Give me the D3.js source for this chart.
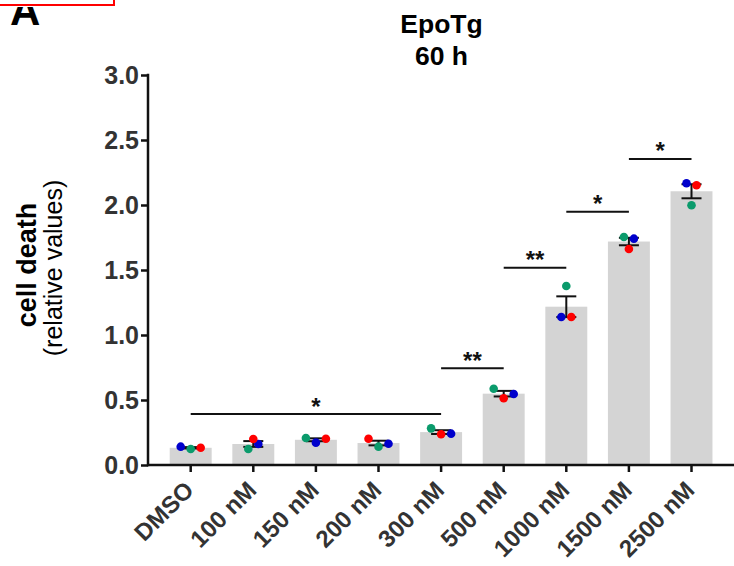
<!DOCTYPE html>
<html>
<head>
<meta charset="utf-8">
<script src="https://cdn.jsdelivr.net/npm/d3@7"></script>
<style>
  html, body { margin: 0; padding: 0; background: #fff; }
  svg { display: block; font-family: "Liberation Sans", Arial, Helvetica, sans-serif; }
</style>
</head>
<body>
<svg id="chart" width="734" height="566"></svg>
<script>
// Concentrations tested
const categories = ["DMSO", "100 nM", "150 nM", "200 nM", "300 nM", "500 nM", "1000 nM", "1500 nM", "2500 nM"];

// Relative cell death, one array per independent experiment
const repBlue  = [0.141, 0.162, 0.172, 0.164, 0.241, 0.546, 1.138, 1.741, 2.167];
const repGreen = [0.123, 0.123, 0.208, 0.141, 0.282, 0.587, 1.377, 1.754, 1.998];
const repRed   = [0.133, 0.200, 0.202, 0.202, 0.236, 0.513, 1.138, 1.662, 2.152];

// Horizontal dodge lanes for the replicate dots (so overlapping dots sit side by side)
const laneBlue  = [-2, 1, 0, 2, 2, 2, -1, 1, -1];
const laneGreen = [0, -1, -2, 0, -2, -2, 0, -1, 0];
const laneRed   = [2, 0, 2, -2, 0, 0, 1, 0, 1];

// Pairwise comparisons
const sigFrom  = ["DMSO", "300 nM", "500 nM", "1000 nM", "1500 nM"];
const sigTo    = ["300 nM", "500 nM", "1000 nM", "1500 nM", "2500 nM"];
const sigLevel = [0.392, 0.744, 1.518, 1.949, 2.354];
const sigText  = ["*", "**", "**", "*", "*"];

const yTicks = [0, 0.5, 1.0, 1.5, 2.0, 2.5, 3.0];

const svg = d3.select("#chart");

const x = d3.scaleBand().domain(categories).range([159.4, 722.8]).padding(0);
const y = d3.scaleLinear().domain([0, 3]).range([465, 75]);
const barW = x.bandwidth() * 0.67;
const cx = c => x(c) + x.bandwidth() / 2;

const reps = [
  { vals: repBlue,  lanes: laneBlue,  color: "#0000cc" },
  { vals: repGreen, lanes: laneGreen, color: "#0b9b6c" },
  { vals: repRed,   lanes: laneRed,   color: "#ff0000" }
];

const rows = categories.map((c, i) => {
  const v = reps.map(r => r.vals[i]);
  const mean = d3.mean(v);
  const sem = d3.deviation(v) / Math.sqrt(v.length);
  return { cat: c, mean, sem };
});

// Panel letter, cropped at the top by the frame
svg.append("defs").append("clipPath").attr("id", "letterClip")
  .append("rect").attr("x", 0).attr("y", 7).attr("width", 100).attr("height", 40);
svg.append("text")
  .attr("x", 10).attr("y", 25)
  .attr("clip-path", "url(#letterClip)")
  .style("font-size", "42px").style("font-weight", "bold").attr("fill", "#000")
  .text("A");
svg.append("rect")
  .attr("x", -5).attr("y", -30).attr("width", 119).attr("height", 35)
  .attr("fill", "none").attr("stroke", "#ff0000").attr("stroke-width", 2);

// Title
svg.append("text").attr("x", 441.5).attr("y", 33).attr("text-anchor", "middle")
  .style("font-size", "26.5px").style("font-weight", "bold").text("EpoTg");
svg.append("text").attr("x", 441.5).attr("y", 65).attr("text-anchor", "middle")
  .style("font-size", "26.5px").style("font-weight", "bold").text("60 h");

// Y axis title
svg.append("text")
  .attr("transform", "translate(35.5,265) rotate(-90)")
  .attr("text-anchor", "middle")
  .style("font-size", "27px").style("font-weight", "bold")
  .text("cell death");
svg.append("text")
  .attr("transform", "translate(61.5,268) rotate(-90)")
  .attr("text-anchor", "middle")
  .style("font-size", "25px")
  .text("(relative values)");

// Bars
svg.append("g").selectAll("rect").data(rows).join("rect")
  .attr("x", d => cx(d.cat) - barW / 2)
  .attr("y", d => y(d.mean))
  .attr("width", barW)
  .attr("height", d => y(0) - y(d.mean))
  .attr("fill", "#d4d4d4");

// Error bars (mean ± SEM)
const eb = svg.append("g").attr("stroke", "#111").attr("stroke-width", 2);
rows.forEach(d => {
  const xc = cx(d.cat);
  eb.append("line").attr("x1", xc).attr("x2", xc).attr("y1", y(d.mean - d.sem)).attr("y2", y(d.mean + d.sem));
  [d.mean - d.sem, d.mean + d.sem].forEach(v => {
    eb.append("line").attr("x1", xc - 10).attr("x2", xc + 10).attr("y1", y(v)).attr("y2", y(v));
  });
});

// Replicate dots
const laneStep = 5;
reps.forEach(r => {
  svg.append("g").selectAll("circle").data(categories).join("circle")
    .attr("cx", (c, i) => cx(c) + r.lanes[i] * laneStep)
    .attr("cy", (c, i) => y(r.vals[i]))
    .attr("r", 4.3)
    .attr("fill", r.color);
});

// Axes
const yAxis = svg.append("g").attr("transform", "translate(148,0)")
  .call(d3.axisLeft(y).tickValues(yTicks).tickFormat(d3.format(".1f")).tickSize(7).tickPadding(2));
yAxis.select(".domain").remove();
yAxis.selectAll(".tick line").attr("stroke", "#111").attr("stroke-width", 2.5);
yAxis.selectAll(".tick text").attr("fill", "#333")
  .style("font-size", "25px").style("font-weight", "bold").attr("font-family", null);
svg.append("line").attr("x1", 148).attr("x2", 148).attr("y1", y(3) - 1.25).attr("y2", y(0) + 1.25)
  .attr("stroke", "#111").attr("stroke-width", 2.5);

const xAxis = svg.append("g").attr("transform", "translate(0,465)")
  .call(d3.axisBottom(x).tickSize(7).tickSizeOuter(0));
xAxis.select(".domain").remove();
xAxis.selectAll(".tick line").attr("stroke", "#111").attr("stroke-width", 2.5);
xAxis.selectAll(".tick text")
  .attr("fill", "#333")
  .attr("font-family", null)
  .style("font-size", "24px").style("font-weight", "bold")
  .attr("text-anchor", "end")
  .attr("y", 0).attr("dy", 0)
  .attr("transform", "translate(4.5,26.5) rotate(-45)");
svg.append("line").attr("x1", 148).attr("x2", 734).attr("y1", 465).attr("y2", 465)
  .attr("stroke", "#111").attr("stroke-width", 2.5);

// Significance brackets
const sg = svg.append("g");
sigFrom.forEach((f, i) => {
  const x1 = cx(f), x2 = cx(sigTo[i]), yy = y(sigLevel[i]);
  sg.append("line").attr("x1", x1).attr("x2", x2).attr("y1", yy).attr("y2", yy)
    .attr("stroke", "#111").attr("stroke-width", 2);
  sg.append("text").attr("x", (x1 + x2) / 2).attr("y", yy + 0.5)
    .attr("text-anchor", "middle")
    .style("font-size", "24px").style("font-weight", "bold").attr("fill", "#111")
    .text(sigText[i]);
});
</script>
</body>
</html>
